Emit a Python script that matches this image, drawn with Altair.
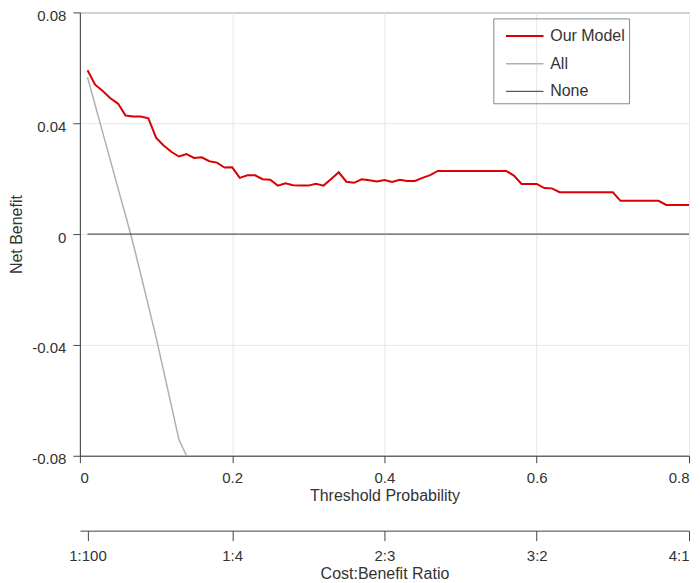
import altair as alt
import pandas as pd

# threshold probabilities (x)
threshold = [
    0.01, 0.02, 0.03, 0.04, 0.05, 0.06, 0.07, 0.08, 0.09, 0.10,
    0.11, 0.12, 0.13, 0.14, 0.15, 0.16, 0.17, 0.18, 0.19, 0.20,
    0.21, 0.22, 0.23, 0.24, 0.25, 0.26, 0.27, 0.28, 0.29, 0.30,
    0.31, 0.32, 0.33, 0.34, 0.35, 0.36, 0.37, 0.38, 0.39, 0.40,
    0.41, 0.42, 0.43, 0.44, 0.45, 0.46, 0.47, 0.48, 0.49, 0.50,
    0.51, 0.52, 0.53, 0.54, 0.55, 0.56, 0.57, 0.58, 0.59, 0.60,
    0.61, 0.62, 0.63, 0.64, 0.65, 0.66, 0.67, 0.68, 0.69, 0.70,
    0.71, 0.72, 0.73, 0.74, 0.75, 0.76, 0.77, 0.78, 0.79, 0.80,
]

# net benefit
model_nb = [
    0.0591, 0.0539, 0.0516, 0.0490, 0.0471, 0.0428, 0.0424, 0.0424, 0.0418, 0.0348,
    0.0320, 0.0297, 0.0280, 0.0289, 0.0275, 0.0277, 0.0263, 0.0258, 0.0240, 0.0241,
    0.0203, 0.0212, 0.0212, 0.0198, 0.0196, 0.0175, 0.0183, 0.0176, 0.0175, 0.0175,
    0.0182, 0.0175, 0.0199, 0.0223, 0.0189, 0.0185, 0.0198, 0.0194, 0.0190, 0.0195,
    0.0188, 0.0196, 0.0192, 0.0192, 0.0203, 0.0213, 0.0228, 0.0228, 0.0228, 0.0228,
    0.0228, 0.0228, 0.0228, 0.0228, 0.0228, 0.0228, 0.0211, 0.0181, 0.0181, 0.0181,
    0.0166, 0.0165, 0.0151, 0.0151, 0.0151, 0.0151, 0.0151, 0.0151, 0.0151, 0.0151,
    0.0120, 0.0120, 0.0120, 0.0120, 0.0120, 0.0120, 0.0105, 0.0105, 0.0105, 0.0105,
]
# "All" goes below the axis floor after 0.13 and sits on -0.08
all_nb = [
    0.0566, 0.0466, 0.0366, 0.0266, 0.0166, 0.0068, -0.0035, -0.0146, -0.0259, -0.0372,
    -0.0494, -0.0617, -0.0741,
] + [-0.08] * 67
none_nb = [0.0] * 80

series = ["Our Model", "All", "None"]
series_colors = ["#dd0000", "#b0b0b0", "#333333"]
series_widths = [2, 1, 1]

x_ticks = [0, 0.2, 0.4, 0.6, 0.8]
y_ticks = [-0.08, -0.04, 0, 0.04, 0.08]
ratio_ticks = [0.01, 0.2, 0.4, 0.6, 0.8]
ratio_labels = ["1:100", "1:4", "2:3", "3:2", "4:1"]

FONT = "Liberation Sans"
TEXT = "#333333"
AXIS = "#444444"

rows = []
for name, vals in zip(series, [model_nb, all_nb, none_nb]):
    for t, v in zip(threshold, vals):
        rows.append({"threshold": t, "net_benefit": v, "series": name})
df = pd.DataFrame(rows)

ratio_df = pd.DataFrame({"pos": ratio_ticks, "label": ratio_labels})

# label lookup for the cost:benefit axis
ratio_expr = " : ".join(
    f"abs(datum.value - {p}) < 0.001 ? '{lab}'" for p, lab in zip(ratio_ticks, ratio_labels)
) + " : ''"

y_expr = "datum.value == 0 ? '0' : (datum.value < 0 ? '-' : '') + format(abs(datum.value), '.2f')"

lines = (
    alt.Chart(df)
    .mark_line(clip=True)
    .encode(
        x=alt.X(
            "threshold:Q",
            scale=alt.Scale(domain=[0, 0.8], nice=False, zero=False),
            axis=alt.Axis(
                values=x_ticks, format="~g", title="Threshold Probability",
                tickSize=7, labelPadding=8, titlePadding=2,
                grid=True,
            ),
        ),
        y=alt.Y(
            "net_benefit:Q",
            scale=alt.Scale(domain=[-0.08, 0.08], nice=False),
            axis=alt.Axis(
                values=y_ticks, labelExpr=y_expr, title="Net Benefit",
                tickSize=7, labelPadding=7, labelOffset=3, titlePadding=7,
                grid=True,
            ),
        ),
        color=alt.Color(
            "series:N",
            scale=alt.Scale(domain=series, range=series_colors),
            legend=alt.Legend(
                title=None, orient="none", legendX=414, legendY=6,
                symbolType="M-1.5,0H1.5", symbolSize=625,
                labelFontSize=16, labelColor=TEXT, labelFont=FONT,
                padding=4, rowPadding=6, symbolOffset=14, labelOffset=12,
                strokeColor="#888888",
            ),
        ),
        strokeWidth=alt.StrokeWidth(
            "series:N",
            scale=alt.Scale(domain=series, range=series_widths),
            legend=alt.Legend(title=None),
        ),
        order=alt.Order("series:N", sort="ascending"),
    )
)

ratio_axis = (
    alt.Chart(ratio_df)
    .mark_point(opacity=0)
    .encode(
        x=alt.X(
            "pos:Q",
            scale=alt.Scale(domain=[0, 0.8], nice=False, zero=False),
            axis=alt.Axis(
                orient="bottom", offset=75, values=ratio_ticks,
                labelExpr=ratio_expr, title="Cost:Benefit Ratio",
                tickSize=10, labelPadding=8, titlePadding=2, grid=False,
            ),
        )
    )
)

chart = (
    alt.layer(lines, ratio_axis)
    .resolve_scale(x="independent")
    .properties(width=610, height=444, padding=0)
    .configure_view(stroke="#777777", strokeWidth=1)
    .configure_axis(
        labelFont=FONT, titleFont=FONT, labelFontSize=15, titleFontSize=16,
        labelColor=TEXT, titleColor=TEXT, titleFontWeight="normal",
        domainColor=AXIS, tickColor=AXIS, gridColor="#e6e6e6",
    )
)

chart.save("out.html", embed_options={"renderer": "svg", "actions": False})
